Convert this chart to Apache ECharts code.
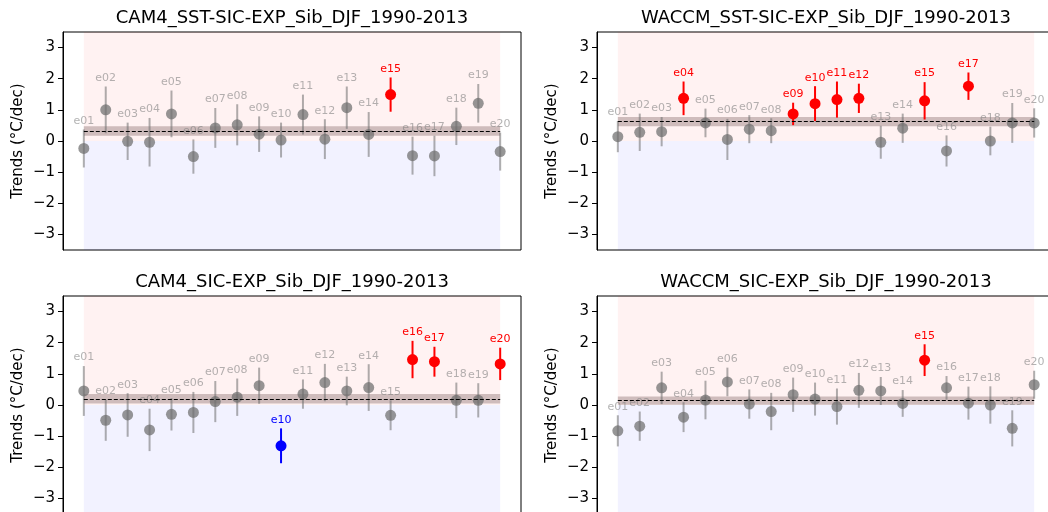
<!DOCTYPE html>
<html>
<head>
<meta charset="utf-8">
<script src="https://cdn.jsdelivr.net/npm/echarts@6/dist/echarts.min.js"></script>
<style>
  html, body { margin: 0; padding: 0; background: #fff; }
  #chart { width: 1048px; height: 512px; }
</style>
</head>
<body>
<div id="chart"></div>
<script>
// ensemble members (x positions 1..20)
var members = ['e01','e02','e03','e04','e05','e06','e07','e08','e09','e10',
               'e11','e12','e13','e14','e15','e16','e17','e18','e19','e20'];

var panelTitles = ['CAM4_SST-SIC-EXP_Sib_DJF_1990-2013', 'WACCM_SST-SIC-EXP_Sib_DJF_1990-2013',
                   'CAM4_SIC-EXP_Sib_DJF_1990-2013', 'WACCM_SIC-EXP_Sib_DJF_1990-2013'];

// trends and error half-widths (°C/dec); sig: 1 = significant warming, -1 = significant cooling
var camSstVals = [-0.24, 1.00, -0.01, -0.04, 0.87, -0.50, 0.42, 0.52, 0.22, 0.03,
                  0.85, 0.06, 1.07, 0.21, 1.49, -0.47, -0.48, 0.47, 1.21, -0.34];
var camSstErrs = [0.61, 0.75, 0.60, 0.78, 0.75, 0.55, 0.64, 0.66, 0.57, 0.56,
                  0.64, 0.64, 0.68, 0.72, 0.55, 0.61, 0.65, 0.60, 0.62, 0.61];
var camSstSig  = [0,0,0,0,0,0,0,0,0,0, 0,0,0,0,1,0,0,0,0,0];

var waccmSstVals = [0.14, 0.28, 0.30, 1.37, 0.58, 0.05, 0.38, 0.33, 0.87, 1.20,
                    1.33, 1.37, -0.04, 0.41, 1.29, -0.32, 1.76, 0.00, 0.58, 0.58];
var waccmSstErrs = [0.50, 0.60, 0.47, 0.54, 0.46, 0.66, 0.45, 0.40, 0.36, 0.56,
                    0.58, 0.47, 0.53, 0.47, 0.60, 0.50, 0.44, 0.46, 0.64, 0.47];
var waccmSstSig  = [0,0,0,1,0,0,0,0,1,1, 1,1,0,0,1,0,1,0,0,0];

var camSicVals = [0.45, -0.49, -0.32, -0.80, -0.30, -0.24, 0.11, 0.25, 0.62, -1.31,
                  0.35, 0.72, 0.45, 0.56, -0.33, 1.46, 1.39, 0.15, 0.15, 1.32];
var camSicErrs = [0.80, 0.66, 0.70, 0.68, 0.52, 0.66, 0.66, 0.60, 0.58, 0.56,
                  0.47, 0.60, 0.46, 0.75, 0.48, 0.60, 0.48, 0.57, 0.55, 0.52];
var camSicSig  = [0,0,0,0,0,0,0,0,0,-1, 0,0,0,0,0,1,1,0,0,1];

var waccmSicVals = [-0.83, -0.68, 0.55, -0.39, 0.16, 0.74, 0.03, -0.21, 0.33, 0.19,
                    -0.05, 0.47, 0.45, 0.05, 1.44, 0.55, 0.06, 0.00, -0.75, 0.65];
var waccmSicErrs = [0.50, 0.47, 0.52, 0.48, 0.62, 0.46, 0.47, 0.60, 0.55, 0.53,
                    0.58, 0.56, 0.45, 0.43, 0.51, 0.38, 0.53, 0.60, 0.58, 0.45];
var waccmSicSig  = [0,0,0,0,0,0,0,0,0,0, 0,0,0,0,1,0,0,0,0,0];

// ensemble mean line and its shaded band (half-width)
var ensMeans = [0.32, 0.62, 0.20, 0.14];
var ensBands = [0.15, 0.15, 0.155, 0.135];

var yTicks = [-3, -2, -1, 0, 1, 2, 3];

var panelVals = [camSstVals, waccmSstVals, camSicVals, waccmSicVals];
var panelErrs = [camSstErrs, waccmSstErrs, camSicErrs, waccmSicErrs];
var panelSig  = [camSstSig, waccmSstSig, camSicSig, waccmSicSig];

var FONT = 'DejaVu Sans';
var gridPos = [[63, 32], [597, 32], [63, 296], [597, 296]];
var GW = 458, GH = 218;

var grids = [], xAxes = [], yAxes = [], titles = [], series = [];

function colorsFor(sig) {
  if (sig === 1) return { mark: '#ff0000', bar: '#ff0000', text: '#ff0000' };
  if (sig === -1) return { mark: '#0000ff', bar: '#0000ff', text: '#0000ff' };
  return { mark: 'rgba(110,110,110,0.72)', bar: 'rgba(110,110,110,0.55)', text: 'rgba(128,128,128,0.6)' };
}

for (var p = 0; p < 4; p++) {
  grids.push({ left: gridPos[p][0], top: gridPos[p][1], width: GW, height: GH,
               outerBoundsMode: 'none', containLabel: false,
               show: true, borderColor: '#000', borderWidth: 1, backgroundColor: '#fff' });
  // title padding is 5px, so pull the anchor back by that much
  titles.push({ text: panelTitles[p], left: gridPos[p][0] + GW / 2 - 5, top: gridPos[p][1] - 28,
                textAlign: 'center',
                textStyle: { fontFamily: FONT, fontSize: 18, fontWeight: 'normal', color: '#000' } });
  xAxes.push({ type: 'value', gridIndex: p, min: 0.05, max: 20.95, show: false });
  yAxes.push({
    type: 'value', gridIndex: p, min: -3.5, max: 3.5,
    name: 'Trends (°C/dec)', nameLocation: 'middle', nameGap: 37, nameRotate: 90,
    nameTextStyle: { fontFamily: FONT, fontSize: 15, color: '#000' },
    splitLine: { show: false },
    axisLine: { show: true, lineStyle: { color: '#000', width: 1 } },
    axisTick: { show: true, length: 5, lineStyle: { color: '#000' }, customValues: yTicks },
    axisLabel: { fontFamily: FONT, fontSize: 15, color: '#000', margin: 8, customValues: yTicks,
                 formatter: function (v) { return v < 0 ? '\u2212' + Math.abs(v) : String(v); } }
  });

  var m = ensMeans[p], b = ensBands[p];
  // backgrounds + ensemble band
  series.push({
    type: 'line', xAxisIndex: p, yAxisIndex: p, data: [], z: 1, silent: true,
    markArea: {
      silent: true,
      data: [
        [{ coord: [1, 0], itemStyle: { color: 'rgba(255,0,0,0.05)' } }, { coord: [20, 3.5] }],
        [{ coord: [1, -3.5], itemStyle: { color: 'rgba(0,0,255,0.05)' } }, { coord: [20, 0] }],
        [{ coord: [1, m - b], itemStyle: { color: 'rgba(110,80,80,0.33)' } }, { coord: [20, m + b] }]
      ]
    }
  });

  var data = [];
  for (var i = 0; i < members.length; i++) {
    data.push([i + 1, panelVals[p][i], panelErrs[p][i], panelSig[p][i]]);
  }
  series.push({
    type: 'custom', xAxisIndex: p, yAxisIndex: p, z: 3, silent: true,
    data: data,
    renderItem: function (params, api) {
      var x = api.value(0), v = api.value(1), e = api.value(2), s = api.value(3);
      var name = members[x - 1];
      var c = colorsFor(s);
      var top = api.coord([x, v + e]);
      var bot = api.coord([x, v - e]);
      var mid = api.coord([x, v]);
      return {
        type: 'group',
        children: [
          { type: 'line', shape: { x1: top[0], y1: top[1], x2: bot[0], y2: bot[1] },
            style: { stroke: c.bar, lineWidth: 2 } },
          { type: 'circle', shape: { cx: mid[0], cy: mid[1], r: 5.5 }, style: { fill: c.mark } },
          { type: 'text', x: top[0], y: top[1] - 3,
            style: { text: name, align: 'center', verticalAlign: 'bottom',
                     textAlign: 'center', textVerticalAlign: 'bottom',
                     fontFamily: FONT, fontSize: 11, fill: c.text } }
        ]
      };
    }
  });

  // ensemble-mean dashed line
  series.push({
    type: 'line', xAxisIndex: p, yAxisIndex: p, data: [], z: 4, silent: true,
    markLine: {
      silent: true, symbol: 'none', label: { show: false },
      lineStyle: { color: '#000', type: [4, 2], width: 1.2 },
      data: [[{ coord: [1, m] }, { coord: [20, m] }]]
    }
  });
}

var chart = echarts.init(document.getElementById('chart'));
chart.setOption({
  animation: false,
  backgroundColor: '#fff',
  title: titles,
  grid: grids,
  xAxis: xAxes,
  yAxis: yAxes,
  series: series
});
</script>
</body>
</html>
